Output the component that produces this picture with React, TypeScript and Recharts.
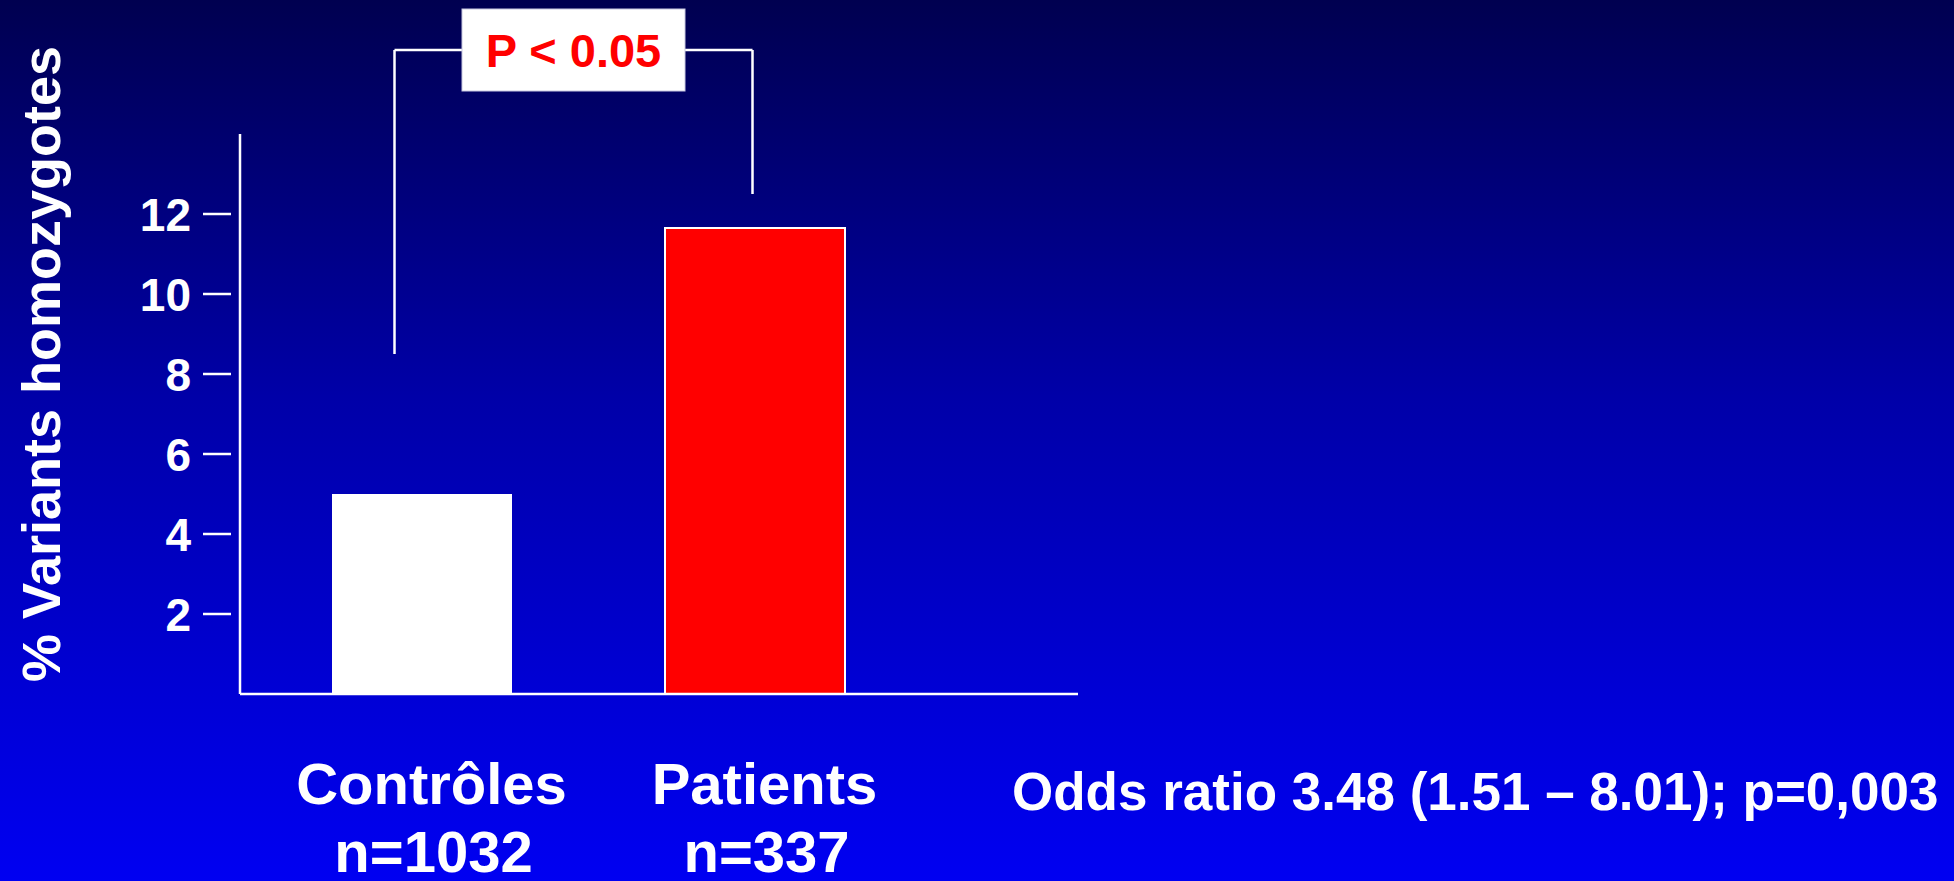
import { BarChart, Bar, XAxis, YAxis, Cell, ReferenceLine } from 'recharts'

document.body.style.margin = '0'

const groups = ['Contrôles', 'Patients']
const groupSizes = ['n=1032', 'n=337']
const homozygotePct = [5.0, 11.65]
const barColors = ['#ffffff', '#ff0000']
const barStrokes = ['none', '#ffffff']
const yTicks = [2, 4, 6, 8, 10, 12]
// significance bracket (y in % units)
const bracketTop = 16.1
const bracketFeet = [8.5, 12.5]
const pLabel = 'P < 0.05'
const oddsText = 'Odds ratio 3.48 (1.51 – 8.01); p=0,003'
const yLabel = '% Variants homozygotes'

const data = groups.map((g, i) => ({ group: g, n: groupSizes[i], pct: homozygotePct[i] }))

const FONT = "'Liberation Sans', Arial, Helvetica, sans-serif"

function YTick({ x, y, payload }: any) {
  return (
    <g>
      <line x1={x - 37} x2={x - 9} y1={y} y2={y} stroke="#fff" strokeWidth={2.5} />
      <text x={x - 49} y={y + 16.5} textAnchor="end" fill="#fff" fontSize={46} fontWeight="bold" fontFamily={FONT}>
        {payload.value}
      </text>
    </g>
  )
}

function XTick({ x, y, payload, index }: any) {
  return (
    <g fontFamily={FONT} fontWeight="bold" fill="#fff" textAnchor="middle">
      <text x={x + 10} y={y + 110} fontSize={58}>{payload.value}</text>
      <text x={x + 12} y={y + 178} fontSize={58}>{groupSizes[index]}</text>
    </g>
  )
}

const shifted = (dx1: number, dx2: number) => (p: any) => (
  <line x1={p.x1 + dx1} y1={p.y1} x2={p.x2 + dx2} y2={p.y2} stroke="#fff" strokeWidth={2.5} />
)

function PBox({ viewBox }: any) {
  const cx = viewBox.x + viewBox.width / 2 - 14.5
  const cy = viewBox.y
  return (
    <g>
      <rect x={cx - 111.5} y={cy - 41} width={223} height={82} fill="#fff" stroke="#c8c8e0" strokeWidth={1} />
      <text x={cx} y={cy + 17} textAnchor="middle" fill="#ff0000" fontSize={47} fontWeight="bold" fontFamily={FONT}>
        {pLabel}
      </text>
    </g>
  )
}

export default function App() {
  return (
    <div
      style={{
        position: 'relative',
        width: 1954,
        height: 881,
        background: 'linear-gradient(to bottom, #000050 0%, #0000a8 45%, #0000f2 100%)',
        overflow: 'hidden',
      }}
    >
      <BarChart width={1954} height={881} data={data} margin={{ top: 134, right: 876, bottom: 0, left: 140 }}>
        <XAxis
          dataKey="group"
          height={187}
          padding={{ left: 15, right: 157 }}
          axisLine={{ stroke: '#fff', strokeWidth: 2.5 }}
          tickLine={false}
          tickSize={0}
          tickMargin={0}
          tick={<XTick />}
          interval={0}
        />
        <YAxis
          width={100}
          domain={[0, 14]}
          ticks={yTicks}
          axisLine={{ stroke: '#fff', strokeWidth: 2.5 }}
          tickLine={false}
          tickSize={0}
          tickMargin={0}
          tick={<YTick />}
        />
        <Bar dataKey="pct" barSize={180} isAnimationActive={false}>
          {data.map((d, i) => (
            <Cell key={d.group} fill={barColors[i]} stroke={barStrokes[i]} strokeWidth={2} />
          ))}
        </Bar>
        <ReferenceLine
          ifOverflow="visible"
          segment={[{ x: groups[0], y: bracketTop }, { x: groups[0], y: bracketFeet[0] }]}
          shape={shifted(-27, -27)}
        />
        <ReferenceLine
          ifOverflow="visible"
          segment={[{ x: groups[1], y: bracketTop }, { x: groups[1], y: bracketFeet[1] }]}
          shape={shifted(-2, -2)}
        />
        <ReferenceLine
          ifOverflow="visible"
          segment={[{ x: groups[0], y: bracketTop }, { x: groups[1], y: bracketTop }]}
          shape={shifted(-27, -2)}
          label={<PBox />}
        />
      </BarChart>
      <svg width={1954} height={881} style={{ position: 'absolute', left: 0, top: 0, pointerEvents: 'none' }}>
        <text
          transform="translate(60,364) rotate(-90)"
          textAnchor="middle"
          fill="#fff"
          fontSize={54}
          fontWeight="bold"
          fontFamily={FONT}
        >
          {yLabel}
        </text>
        <text x={1012} y={810} fill="#fff" fontSize={53} fontWeight="bold" fontFamily={FONT}>
          {oddsText}
        </text>
      </svg>
    </div>
  )
}
